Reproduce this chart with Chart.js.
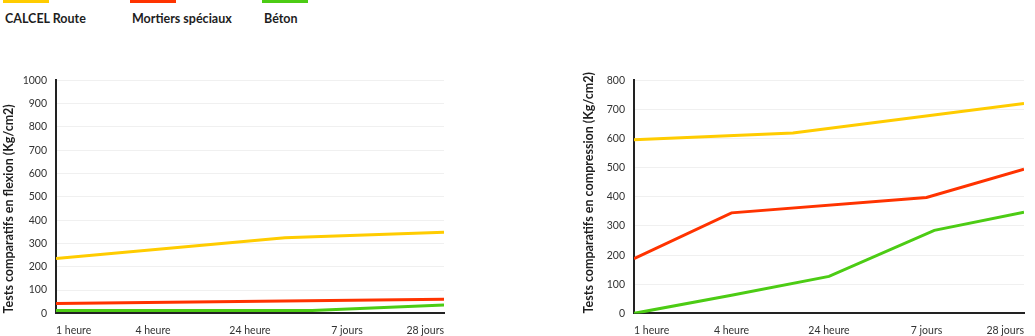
<!DOCTYPE html>
<html>
<head>
<meta charset="utf-8">
<script src="https://cdn.jsdelivr.net/npm/chart.js@4"></script>
<style>
  body { margin: 0; width: 1035px; height: 336px; position: relative; overflow: hidden; background: #fff; font-family: Lato, sans-serif; }
  .legend { position: absolute; top: 0; left: 0; }
  .legend .item { position: absolute; top: 0; width: 120px; }
  .legend .bar { position: absolute; top: 0; left: 0; width: 46px; height: 3px; }
  .legend .txt { position: absolute; top: 11px; left: 2px; white-space: nowrap; font-weight: bold; font-size: 12.5px; color: #1e1e1e; }
  .box { position: absolute; }
</style>
</head>
<body>
<div class="legend" id="legend"></div>
<div class="box" style="left:0; top:65px; width:455px; height:283px;"><canvas id="flexion"></canvas></div>
<div class="box" style="left:580px; top:65px; width:455px; height:283px;"><canvas id="compression"></canvas></div>
<script>
// echeances des tests
const categories = ['1 heure', '4 heure', '24 heure', '7 jours', '28 jours'];

const seriesNames = ['CALCEL Route', 'Mortiers spéciaux', 'Béton'];
const seriesColors = ['#ffcc00', '#ff3300', '#4ccc14'];

// flexion (Kg/cm2) - x = position le long de l'axe des echeances (0 = 1 heure, 4 = 28 jours)
const flexionRouteX = [0, 2.36, 4];
const flexionRoute = [235, 325, 348];
const flexionMortierX = [0, 4];
const flexionMortier = [42, 61];
const flexionBetonX = [0, 2.64, 4];
const flexionBeton = [12, 12, 36];

// compression (Kg/cm2)
const compRouteX = [0, 1.63, 4];
const compRoute = [596, 619, 720];
const compMortierX = [0, 1, 3, 4];
const compMortier = [188, 345, 398, 495];
const compBetonX = [0, 1, 2, 3.08, 4];
const compBeton = [0, 62, 127, 285, 347];

const yTicksFlexion = { max: 1000, step: 100 };
const yTicksComp = { max: 800, step: 100 };

// legende
const legend = document.getElementById('legend');
const legendLeft = [3, 130, 262];
seriesNames.forEach((name, i) => {
    const item = document.createElement('div');
    item.className = 'item';
    item.style.left = legendLeft[i] + 'px';
    item.innerHTML = '<div class="bar" style="background:' + seriesColors[i] + '"></div><div class="txt">' + name + '</div>';
    legend.appendChild(item);
});

function toPoints(xs, ys) {
    return xs.map((x, i) => ({ x: x, y: ys[i] }));
}

function makeChart(id, title, sets, yt, axisWidth) {
    const ctx = document.getElementById(id).getContext('2d');
    return new Chart(ctx, {
        type: 'line',
        data: {
            datasets: sets.map((s, i) => ({
                label: seriesNames[i],
                data: toPoints(s[0], s[1]),
                borderColor: seriesColors[i],
                backgroundColor: seriesColors[i],
                borderWidth: 3,
                pointRadius: 0,
                tension: 0,
                fill: false
            }))
        },
        options: {
            responsive: true,
            maintainAspectRatio: false,
            animation: false,
            layout: { padding: 0 },
            plugins: {
                legend: { display: false },
                tooltip: { enabled: false }
            },
            scales: {
                x: {
                    type: 'linear',
                    min: 0,
                    max: categories.length - 1,
                    afterBuildTicks: (scale) => {
                        scale.ticks = categories.map((c, i) => ({ value: i }));
                    },
                    ticks: {
                        align: 'inner',
                        maxRotation: 0,
                        autoSkip: false,
                        padding: 11,
                        color: '#333',
                        font: { family: 'Lato', size: 10.5 },
                        callback: (v) => categories[v]
                    },
                    grid: { display: false, drawTicks: false },
                    border: { color: '#222', width: 2 }
                },
                y: {
                    min: 0,
                    max: yt.max,
                    afterFit: (scale) => { scale.width = axisWidth; },
                    ticks: {
                        stepSize: yt.step,
                        padding: 9,
                        color: '#333',
                        font: { family: 'Lato', size: 10.5 },
                        callback: (v) => String(v)
                    },
                    grid: { color: '#f0f0f0', drawTicks: false },
                    border: { color: '#222', width: 2 },
                    title: {
                        display: true,
                        text: title,
                        align: 'start',
                        color: '#1e1e1e',
                        font: { family: 'Lato', size: 12.5, weight: 'bold' },
                        padding: { top: 1, bottom: 0 }
                    }
                }
            }
        }
    });
}

makeChart('flexion', 'Tests comparatifs en flexion (Kg/cm2)', [
    [flexionRouteX, flexionRoute],
    [flexionMortierX, flexionMortier],
    [flexionBetonX, flexionBeton]
], yTicksFlexion, 56);

makeChart('compression', 'Tests comparatifs en compression (Kg/cm2)', [
    [compRouteX, compRoute],
    [compMortierX, compMortier],
    [compBetonX, compBeton]
], yTicksComp, 54);
</script>
</body>
</html>
